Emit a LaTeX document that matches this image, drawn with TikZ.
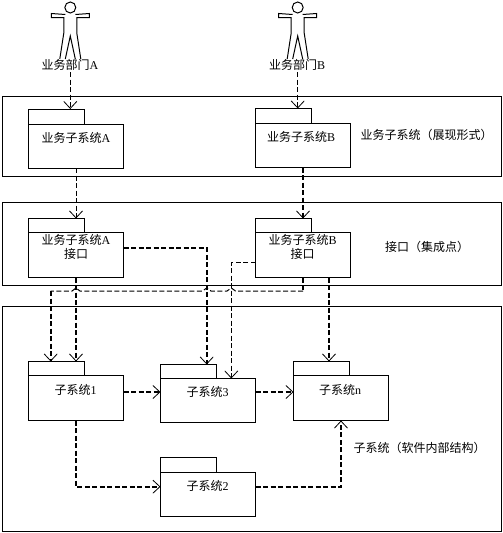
\documentclass[tikz,border=0pt]{standalone}
\usepackage{fontspec}
\setmainfont{Noto Sans CJK SC}
\newfontfamily\latinpart{Liberation Serif}
\newcommand{\lat}[1]{{\latinpart\fontsize{12}{13}\selectfont #1}}
\usetikzlibrary{arrows.meta}
\tikzset{
  x=1pt,y=-1pt,
  frame/.style={draw,line width=1pt},
  lbl/.style={inner sep=0pt,font=\fontsize{12}{13}\selectfont,align=center},
  thinarrow/.style={line width=1pt,dash pattern=on 5pt off 2.5pt,-{Straight Barb[length=7pt,width=13pt,line width=0.8pt]}},
  thickarrow/.style={line width=1.8pt,dash pattern=on 5pt off 2.5pt,-{Straight Barb[length=7pt,width=13pt,line width=0.8pt]}},
  thinline/.style={line width=1pt,dash pattern=on 5pt off 2.5pt},
  thickline/.style={line width=1.8pt,dash pattern=on 5pt off 2.5pt},
  actorline/.style={line width=1pt,line join=miter},
}
% #1 name, #2 left, #3 tab right, #4 right, #5 tab top, #6 body top, #7 bottom
\newcommand{\pkg}[7]{%
  \draw[frame] (#2,#5) rectangle (#3,#6);
  \draw[frame,fill=white] (#2,#6) rectangle (#4,#7);
}
\newcommand{\actorfig}[1]{%
  \begin{scope}[shift={(#1,0)}]
    \draw[actorline] (0,7.5) circle (5.5);
    \draw[actorline] (-5,14.5) -- (-19,13.5) -- (-19,17.5) -- (-6.5,17.5) -- (-6.5,33) -- (-10.5,59);
    \draw[actorline] (5,14.5) -- (19,13.5) -- (19,17.5) -- (6.5,17.5) -- (6.5,33) -- (10.5,59);
    \draw[actorline] (-5,59) -- (0,36) -- (5,59);
  \end{scope}
}
\begin{document}
\begin{tikzpicture}
\useasboundingbox (0,0) rectangle (503,533);
% layer frames
\draw[frame] (2.5,96.5) rectangle (501.5,176);
\draw[frame] (2.5,202.5) rectangle (501.5,285.5);
\draw[frame] (2.5,306) rectangle (501.5,531.5);
% actors
\actorfig{70.3}
\actorfig{297.7}
% packages
\pkg{a}{28.5}{84.5}{123.5}{109}{124}{168}
\pkg{b}{255.5}{311.5}{350.5}{108.5}{123.5}{167.5}
\pkg{ai}{28.5}{84.5}{123.5}{218.5}{232.5}{277.5}
\pkg{bi}{255.5}{311.5}{350.5}{218.5}{232.5}{277.5}
\pkg{one}{28.5}{84.5}{123.5}{361.5}{375.5}{420.5}
\pkg{three}{160.5}{216.5}{255.5}{364.5}{378.5}{422.5}
\pkg{en}{293.5}{349.5}{388.5}{361.5}{375.5}{420.5}
\pkg{two}{160.5}{216.5}{255.5}{457.5}{472.5}{516.5}
% labels
\node[lbl] (la) at (70,65) {业务部门\lat{A}};
\node[lbl] (lb) at (297,65) {业务部门\lat{B}};
\node[lbl] (ta) at (76,138) {业务子系统\lat{A}};
\node[lbl] (tb) at (301,137) {业务子系统\lat{B}};
\node[lbl] (t1) at (426.5,135) {业务子系统（展现形式）};
\node[lbl] (tai) at (76,240) {业务子系统\lat{A}};
\node[lbl] (tai2) at (76,253.5) {接口};
\node[lbl] (tbi) at (302.7,240) {业务子系统\lat{B}};
\node[lbl] (tbi2) at (302.7,253.5) {接口};
\node[lbl] (t2) at (427,246.5) {接口（集成点）};
\node[lbl] (s1) at (75.5,390) {子系统\lat{1}};
\node[lbl] (s3) at (207.5,392) {子系统\lat{3}};
\node[lbl] (sn) at (340,390) {子系统\lat{n}};
\node[lbl] (s2) at (207.5,486) {子系统\lat{2}};
\node[lbl] (t3) at (419.5,448) {子系统（软件内部结构）};
% connector ports
\coordinate (actA) at (70.3,72);
\coordinate (actB) at (297.7,72);
\coordinate (aTab) at (70.3,109);
\coordinate (bTab) at (297.7,108.5);
\coordinate (aOut) at (76,168);
\coordinate (bOut) at (303,167.5);
\coordinate (aiIn) at (76,218.5);
\coordinate (biIn) at (303,218.5);
\coordinate (aiE) at (123.5,248);
\coordinate (aiS) at (76,277.5);
\coordinate (biS) at (303,277.5);
\coordinate (biS2) at (329,277.5);
\coordinate (biW) at (255.5,262.3);
\coordinate (busR) at (303,291);
\coordinate (busL) at (50.7,291);
\coordinate (oneTabA) at (50.7,361.5);
\coordinate (oneTabB) at (76,361.5);
\coordinate (threeTab) at (206.7,364.5);
\coordinate (threeBody) at (231.3,378.5);
\coordinate (enTab) at (329,361.5);
\coordinate (oneE) at (123.5,392);
\coordinate (threeW) at (160.5,392);
\coordinate (threeE) at (255.5,392);
\coordinate (enW) at (293.5,392);
\coordinate (oneS) at (76,420.5);
\coordinate (twoW) at (160.5,486.7);
\coordinate (twoE) at (255.5,486.7);
\coordinate (enS) at (341,420.5);
% connectors
\draw[thinarrow] (actA) -- (aTab);
\draw[thinarrow] (actB) -- (bTab);
\draw[thinarrow] (aOut) -- (aiIn);
\draw[thickarrow] (bOut) -- (biIn);
\draw[thickarrow] (aiE) -| (threeTab);
\draw[thinarrow] (biW) -| (threeBody);
\draw[thickline] (biS) -- (busR);
\draw[thinline] (busR) -- (235.5,291) to[out=180,in=0] (231.3,288) to[out=180,in=0] (227,291) -- (211,291)
  to[out=180,in=0] (206.7,288) to[out=180,in=0] (202.5,291) -- (80,291)
  to[out=180,in=0] (76,288) to[out=180,in=0] (72,291) -- (busL);
\draw[thickarrow] (busL) -- (oneTabA);
\draw[thickarrow] (aiS) -- (oneTabB);
\draw[thickarrow] (biS2) -- (enTab);
\draw[thickarrow] (oneE) -- (threeW);
\draw[thickarrow] (threeE) -- (enW);
\draw[thickarrow] (oneS) |- (twoW);
\draw[thickarrow] (twoE) -| (enS);
\end{tikzpicture}
\end{document}
